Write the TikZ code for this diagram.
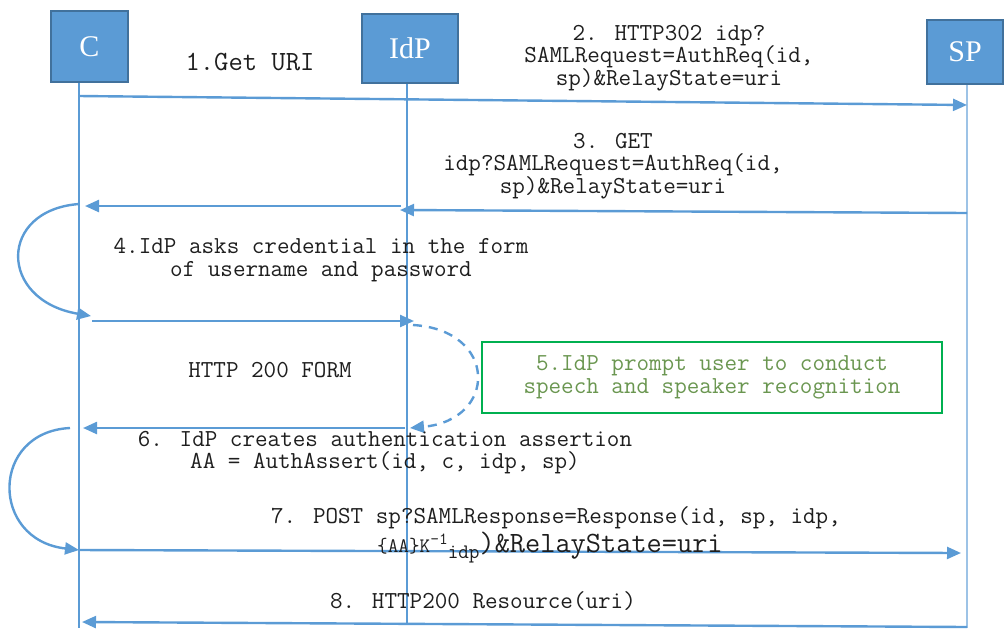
\documentclass[tikz,border=0pt]{standalone}
\usepackage{fontspec}
\setmainfont{Liberation Serif}
\usetikzlibrary{arrows.meta}
\definecolor{lb}{RGB}{91,155,213}
\definecolor{bb}{RGB}{65,113,156}
\definecolor{ll}{RGB}{157,195,230}
\definecolor{txt}{RGB}{30,30,30}
\definecolor{gtxt}{RGB}{106,150,80}
\definecolor{gbox}{RGB}{0,176,80}
\begin{document}
\begin{tikzpicture}[x=1pt,y=-1pt,
  actor/.style={draw=bb,line width=2.5pt,fill=lb,text=white,font=\fontsize{30}{30}\selectfont,inner sep=0pt},
  life/.style={draw=lb,line width=1.3pt},
  msg/.style={draw=lb,line width=2.4pt,-{Triangle[length=14pt,width=12pt]}},
  dmsg/.style={msg,dash pattern=on 9pt off 7pt},
  lbl/.style={text=txt,font=\ttfamily\fontsize{24.4}{22.5}\selectfont,align=center,inner sep=0pt},
  note/.style={draw=gbox,line width=1.5pt,text=gtxt,font=\ttfamily\fontsize{24.4}{22.5}\selectfont,align=center,minimum width=460pt,minimum height=71pt,inner sep=0pt}
]
\useasboundingbox (0,0) rectangle (1006,630);

% actors
\node[actor,minimum width=77pt,minimum height=71pt] (C) at (89.5,46.5) {C};
\node[actor,minimum width=96pt,minimum height=69pt,line width=1.5pt] (IdP) at (410,48.5) {IdP};
\node[actor,minimum width=76pt,minimum height=64pt,line width=2pt] (SP) at (965,52) {SP};

% lifelines
\coordinate (cB) at (79,628);
\coordinate (iB) at (407,625);
\coordinate (sB) at (967,628);
\draw[life] (cB |- C.south) -- (cB);
\draw[life] (iB |- IdP.south) -- (iB);
\draw[life,draw=ll,line width=2pt] (sB |- SP.south) -- (sB);

% message end points
\coordinate (m1a) at (79,96);   \coordinate (m1b) at (967,105);
\coordinate (m3a) at (967,213); \coordinate (m3b) at (400,210);
\coordinate (m3c) at (401,206); \coordinate (m3d) at (85,206);
\coordinate (l4a) at (79,204);  \coordinate (l4b) at (91,316);
\coordinate (m4a) at (92,321);  \coordinate (m4b) at (414,321);
\coordinate (l5a) at (413,325); \coordinate (l5b) at (410,428);
\coordinate (m5a) at (405,428); \coordinate (m5b) at (83,428);
\coordinate (l6a) at (70,428);  \coordinate (l6b) at (79,550);
\coordinate (m7a) at (79,550);  \coordinate (m7b) at (961,553);
\coordinate (m8a) at (967,627); \coordinate (m8b) at (82,622);

% messages
\draw[msg] (m1a) -- (m1b);
\draw[msg] (m3a) -- (m3b);
\draw[msg] (m3c) -- (m3d);
\draw[msg] (l4a) .. controls (-2,210) and (-2,300) .. (l4b);
\draw[msg] (m4a) -- (m4b);
\draw[dmsg] (l5a) .. controls (498,330) and (498,420) .. (l5b);
\draw[msg] (m5a) -- (m5b);
\draw[msg] (l6a) .. controls (-10,432) and (-10,540) .. (l6b);
\draw[msg] (m7a) -- (m7b);
\draw[msg] (m8a) -- (m8b);

% labels
\node[lbl,font=\ttfamily\fontsize{27.8}{26}\selectfont] (t1) at (250,62) {1.Get URI};
\node[lbl] (t2) at (669,58) {2. HTTP302 idp?\\SAMLRequest=AuthReq(id,\\sp)\&RelayState=uri};
\node[lbl] (t3) at (613,166) {3. GET\\idp?SAMLRequest=AuthReq(id,\\sp)\&RelayState=uri};
\node[lbl] (t4) at (321,260) {4.IdP asks credential in the form\\of username and password};
\node[lbl] (t4b) at (270,370) {HTTP 200 FORM};
\node[note] (t5) at (712,377.5) {5.IdP prompt user to conduct\\speech and speaker recognition};
\node[lbl] (t6) at (385,452.5) {6. IdP creates authentication assertion\\AA = AuthAssert(id, c, idp, sp)};
\node[lbl] (t7) at (556,518) {7. POST sp?SAMLResponse=Response(id, sp, idp,};
\node[lbl,anchor=base west] (t7b) at (377,552) {{\fontsize{20.6}{20}\selectfont\{AA\}K\raisebox{8pt}{\fontsize{17}{17}\selectfont-1}\raisebox{-6pt}{idp}}{\fontsize{29.5}{28}\selectfont)\&RelayState=uri}};
\node[lbl] (t8) at (483,601) {8. HTTP200 Resource(uri)};
\end{tikzpicture}
\end{document}
